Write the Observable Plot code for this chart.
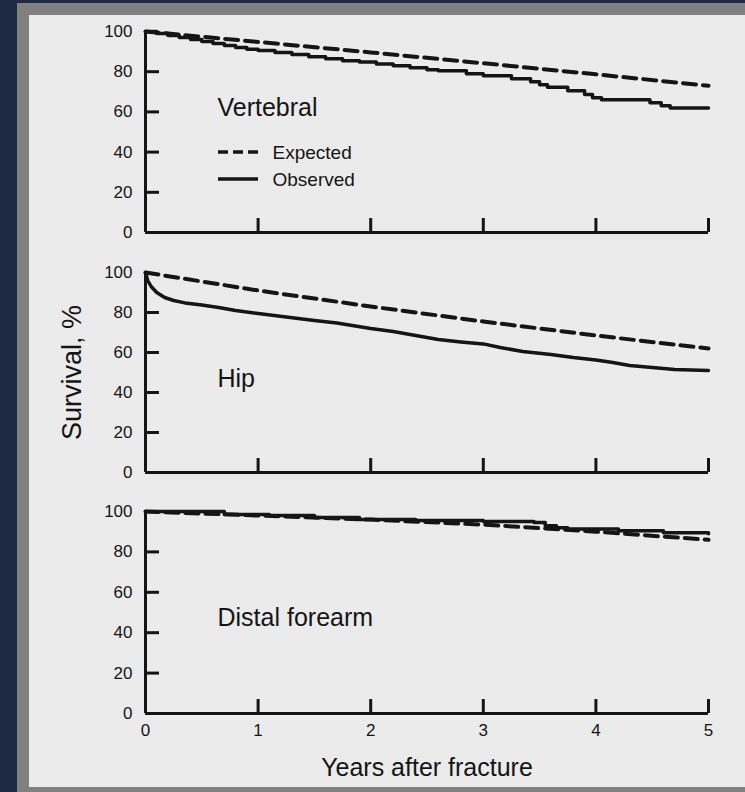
<!DOCTYPE html>
<html><head><meta charset="utf-8">
<script src="https://cdn.jsdelivr.net/npm/d3@7"></script>
<script src="https://cdn.jsdelivr.net/npm/@observablehq/plot@0.6"></script>
<style>
html,body{margin:0;padding:0;width:745px;height:792px;overflow:hidden;background:#1d2a41;}
#frame{position:absolute;left:17px;top:3px;width:760px;height:820px;background:#808080;}
#paper{position:absolute;left:29px;top:15px;width:740px;height:772px;background:#ebebeb;}
#chart{position:absolute;left:0;top:0;width:745px;height:792px;}
#chart svg{position:absolute;left:0;}
</style></head><body>
<div id="frame"></div><div id="paper"></div><div id="chart"></div>
<script>
// ---- data ----
const panels = ["Vertebral", "Hip", "Distal forearm"];
const seriesNames = ["Expected", "Observed"];
const xTicks = [0, 1, 2, 3, 4, 5];
const yTicks = [0, 20, 40, 60, 80, 100];
const xTitle = "Years after fracture";
const yTitle = "Survival, %";

// [years after fracture, survival %]
const vertebralExpected = [[0,100],[1,94.8],[2,89.6],[3,84.2],[4,78.7],[5,73]];
const vertebralObserved = [[0,100],[0.1,99],[0.2,98],[0.3,97],[0.4,96],[0.5,95],[0.6,94],[0.7,93],[0.8,92],[0.9,91.2],[1.0,90.5],[1.15,89.5],[1.3,88.5],[1.45,87.5],[1.6,86.5],[1.75,85.5],[1.9,84.8],[2.05,83.8],[2.2,83],[2.35,82],[2.5,81],[2.6,80.5],[2.85,79],[3.0,78],[3.25,76.5],[3.42,75],[3.5,73.5],[3.57,72.3],[3.75,70.5],[3.9,68.7],[3.97,67],[4.05,66],[4.48,64.5],[4.58,63],[4.66,62],[5,62]];
const hipExpected = [[0,100],[1,91],[2,83],[3,75.5],[4,68.5],[5,62]];
const hipObserved = [[0,100],[0.02,96],[0.05,93],[0.1,90],[0.17,87.5],[0.25,86],[0.35,84.8],[0.5,83.8],[0.65,82.5],[0.8,81],[1.0,79.5],[1.25,77.8],[1.5,76],[1.7,74.8],[2.0,72],[2.2,70.5],[2.4,68.5],[2.6,66.5],[2.8,65.3],[3.0,64.3],[3.15,62.5],[3.35,60.5],[3.6,59],[3.8,57.5],[4.0,56.3],[4.15,55],[4.3,53.5],[4.5,52.5],[4.7,51.5],[5,51]];
const forearmExpected = [[0,100],[1,98],[2,96],[3,93.5],[4,90],[5,86]];
const forearmObserved = [[0,100],[0.65,100],[0.7,98.5],[1.1,98],[1.5,97],[1.9,96],[2.4,95.5],[3.0,95],[3.45,94.5],[3.55,93],[3.65,92],[3.75,91.3],[4.2,90.5],[4.6,89.5],[5,89]];

const seriesByPanel = {
  "Vertebral": {Expected: vertebralExpected, Observed: vertebralObserved},
  "Hip": {Expected: hipExpected, Observed: hipObserved},
  "Distal forearm": {Expected: forearmExpected, Observed: forearmObserved}
};

// ---- styles ----
const ink = "#151515";
const font = "'Liberation Sans', Arial, Helvetica, sans-serif";
const layout = [
  {top: 0, height: 241, marginTop: 31, marginBottom: 9},
  {top: 241, height: 239, marginTop: 31, marginBottom: 8},
  {top: 480, height: 312, marginTop: 31, marginBottom: 79}
];
const legendRows = [{dy: 121, dash: "10,5"}, {dy: 148, dash: null}];

function rows(panel, series) {
  return seriesByPanel[panel][series].map(([year, value]) => ({year, value}));
}

function legendSwatches(index, scales, values, dims) {
  const g = d3.create("svg:g");
  const x0 = dims.marginLeft + 73, x1 = dims.marginLeft + 113;
  legendRows.forEach(({dy, dash}) => {
    const l = g.append("line")
      .attr("x1", x0).attr("x2", x1)
      .attr("y1", dims.marginTop + dy).attr("y2", dims.marginTop + dy)
      .attr("stroke", ink).attr("stroke-width", 3.5);
    if (dash) l.attr("stroke-dasharray", dash);
  });
  return g.node();
}

const chart = document.getElementById("chart");
panels.forEach((panel, i) => {
  const L = layout[i];
  const last = i === panels.length - 1;
  const marks = [
    Plot.ruleX([0], {stroke: ink, strokeWidth: 3}),
    Plot.ruleY([0], {stroke: ink, strokeWidth: 3}),
    Plot.axisY(yTicks.filter(d => d > 0 && d < 100), {tickSize: -14, fill: "none", stroke: ink, strokeWidth: 3, label: null}),
    Plot.axisY(yTicks, {tickSize: 0, tickPadding: 13, stroke: "none", fill: ink, fontSize: 17, label: null}),
    Plot.axisX(xTicks.filter(d => d > 0), {tickSize: -14, fill: "none", stroke: ink, strokeWidth: 3, label: null}),
    Plot.line(rows(panel, "Expected"), {x: "year", y: "value", stroke: ink, strokeWidth: 4, strokeDasharray: "13,7", curve: "linear"}),
    Plot.line(rows(panel, "Observed"), {x: "year", y: "value", stroke: ink, strokeWidth: 3.5, curve: panel === "Hip" ? "linear" : "step-after"}),
    Plot.text([panel], {frameAnchor: "top-left", dx: 72, dy: i === 0 ? 84 : 114, lineAnchor: "bottom", textAnchor: "start", fontSize: 25, fill: ink})
  ];
  if (i === 0) {
    marks.push(legendSwatches);
    seriesNames.forEach((name, j) => {
      marks.push(Plot.text([name], {frameAnchor: "top-left", dx: 127, dy: legendRows[j].dy, lineAnchor: "middle", textAnchor: "start", fontSize: 19, fill: ink}));
    });
  }
  if (i === 1) {
    marks.push(Plot.text([yTitle], {frameAnchor: "left", dx: -73, rotate: -90, textAnchor: "middle", lineAnchor: "middle", fontSize: 27, fill: ink}));
  }
  if (last) {
    marks.push(Plot.axisX(xTicks, {tickSize: 0, tickPadding: 10, stroke: "none", fill: ink, fontSize: 17, label: null}));
    marks.push(Plot.text([xTitle], {frameAnchor: "bottom", dy: 62, lineAnchor: "bottom", textAnchor: "middle", fontSize: 25, fill: ink}));
  }
  const svg = Plot.plot({
    width: 745, height: L.height,
    marginLeft: 145, marginRight: 37, marginTop: L.marginTop, marginBottom: L.marginBottom,
    style: {background: "transparent", overflow: "visible", fontFamily: font, color: ink},
    x: {domain: [0, 5], axis: null},
    y: {domain: [0, 100], axis: null},
    marks
  });
  svg.style.top = L.top + "px";
  chart.appendChild(svg);
});
</script>
</body></html>
